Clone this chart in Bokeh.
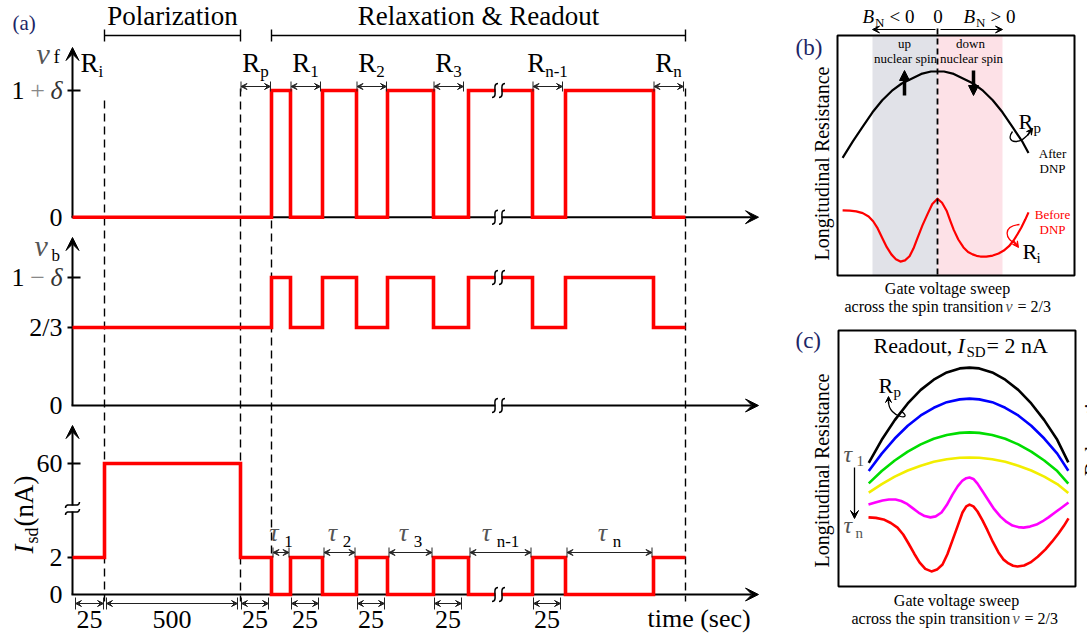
import numpy as np
from bokeh.plotting import figure
from bokeh.layouts import row, column
from bokeh.models import Range1d, Arrow, VeeHead, NormalHead
from bokeh.core.properties import value
from bokeh.embed import file_html
from bokeh.resources import INLINE

SERIF = "Liberation Serif"
RED = "#ff0000"
NAVY = "#1c2566"
MATH = "#555555"

# ================= DATA =================
# Panel (a): pulse sequence, schematic time (axis not to scale)
seg_edges = [0, 32, 168, 199, 218, 250, 284, 315, 361, 396, 460, 493, 581, 613]
isd_levels = ["2", "60", "2", "0", "2", "0", "2", "0", "2", "0", "2", "0", "2"]
nuf_levels = ["0", "0", "0", "1+δ", "0", "1+δ", "0", "1+δ", "0", "1+δ", "0", "1+δ", "0"]
nub_levels = ["2/3", "2/3", "2/3", "1−δ", "2/3", "1−δ", "2/3", "1−δ", "2/3", "1−δ", "2/3", "1−δ", "2/3"]
readout_len = 30
R_subs = ["p", "1", "2", "3", "n-1", "n"]
tau_subs = ["1", "2", "3", "n-1", "n"]
dur_labels = ["25", "500", "25", "25", "25", "25", "25"]
time_break = 426

# Panel (b): gate voltage sweep (units: B_N band width), resistance (arb.)
bn_bands = [(-1.0, 0.0), (0.0, 1.0)]
bn_colors = ["#e1e2e8", "#fde1e7"]
vg_after = [-1.46, -1.3, -1.15, -1.0, -0.85, -0.7, -0.55, -0.4, -0.25, -0.1, 0.0,
            0.1, 0.25, 0.4, 0.55, 0.7, 0.85, 1.0, 1.15, 1.3, 1.4]
r_after = [0.49, 0.56, 0.62, 0.68, 0.73, 0.77, 0.80, 0.82, 0.84, 0.85, 0.85,
           0.85, 0.84, 0.82, 0.80, 0.77, 0.73, 0.68, 0.62, 0.56, 0.51]
vg_before = [-1.46, -1.35, -1.25, -1.15, -1.06, -0.99, -0.92, -0.85, -0.78, -0.71,
             -0.64, -0.57, -0.50, -0.43, -0.37, -0.31, -0.23, -0.15, -0.08, 0.0,
             0.07, 0.14, 0.20, 0.25, 0.32, 0.40, 0.47, 0.54, 0.60, 0.66,
             0.75, 0.85, 0.94, 1.02, 1.10, 1.17, 1.23, 1.29, 1.35, 1.40]
r_before = [0.271, 0.270, 0.267, 0.260, 0.246, 0.226, 0.196, 0.156, 0.118, 0.088,
            0.068, 0.058, 0.063, 0.080, 0.112, 0.155, 0.210, 0.258, 0.298, 0.320,
            0.303, 0.270, 0.226, 0.190, 0.150, 0.117, 0.098, 0.088, 0.082, 0.079,
            0.079, 0.083, 0.092, 0.104, 0.122, 0.146, 0.172, 0.200, 0.233, 0.263]

# Panel (c): readout curves for increasing relaxation time tau_1 ... tau_n
vg_c = [-1.55, -1.35, -1.15, -0.95, -0.75, -0.55, -0.35, -0.15, 0.0,
        0.15, 0.35, 0.55, 0.75, 0.95, 1.15, 1.35, 1.52]
r_c_black = [0.483, 0.573, 0.650, 0.715, 0.768, 0.808, 0.836, 0.852, 0.855,
             0.852, 0.836, 0.808, 0.768, 0.715, 0.650, 0.573, 0.485]
r_c_blue = [0.451, 0.519, 0.578, 0.628, 0.668, 0.698, 0.720, 0.731, 0.734,
            0.731, 0.720, 0.698, 0.668, 0.628, 0.578, 0.519, 0.452]
r_c_green = [0.403, 0.451, 0.492, 0.527, 0.555, 0.577, 0.592, 0.600, 0.602,
             0.600, 0.592, 0.577, 0.555, 0.527, 0.492, 0.451, 0.402]
r_c_yellow = [0.367, 0.400, 0.429, 0.453, 0.472, 0.487, 0.497, 0.503, 0.504,
              0.503, 0.497, 0.487, 0.472, 0.453, 0.429, 0.400, 0.365]
vg_c_mag = [-1.554, -1.45, -1.338, -1.24, -1.138, -1.05, -0.969, -0.88, -0.785, -0.69,
            -0.600, -0.52, -0.431, -0.35, -0.262, -0.18, -0.108, -0.05, 0.0, 0.06,
            0.123, 0.20, 0.292, 0.38, 0.477, 0.57, 0.662, 0.75, 0.831, 0.93,
            1.031, 1.12, 1.215, 1.31, 1.400, 1.523]
r_c_mag = [0.320, 0.328, 0.336, 0.340, 0.340, 0.334, 0.324, 0.307, 0.289, 0.275,
           0.270, 0.274, 0.289, 0.318, 0.359, 0.392, 0.414, 0.423, 0.426, 0.420,
           0.402, 0.372, 0.336, 0.302, 0.273, 0.252, 0.238, 0.232, 0.230, 0.234,
           0.242, 0.254, 0.270, 0.288, 0.305, 0.328]
vg_c_red = [-1.554, -1.44, -1.323, -1.21, -1.108, -1.02, -0.938, -0.85, -0.769, -0.68,
            -0.585, -0.50, -0.415, -0.34, -0.262, -0.18, -0.108, -0.05, 0.0, 0.06,
            0.123, 0.20, 0.277, 0.36, 0.446, 0.52, 0.600, 0.67, 0.738, 0.84,
            0.938, 1.05, 1.169, 1.27, 1.369, 1.45, 1.523]
r_c_red = [0.270, 0.268, 0.262, 0.248, 0.230, 0.203, 0.168, 0.128, 0.094, 0.069,
           0.059, 0.066, 0.086, 0.126, 0.180, 0.238, 0.289, 0.313, 0.320, 0.313,
           0.293, 0.258, 0.219, 0.174, 0.133, 0.106, 0.090, 0.081, 0.078, 0.082,
           0.094, 0.116, 0.145, 0.175, 0.207, 0.236, 0.266]
c_curve_x = [vg_c, vg_c, vg_c, vg_c, vg_c_mag, vg_c_red]
c_curve_y = [r_c_black, r_c_blue, r_c_green, r_c_yellow, r_c_mag, r_c_red]
c_curve_colors = ["#000000", "#0000ff", "#00dd00", "#f2ee00", "#ff00ff", "#ff0000"]


# ================= HELPERS =================
def base_fig(w, h, xr, yr, sx, sy):
    p = figure(width=w, height=h, x_range=xr, y_range=yr, output_backend="svg",
               toolbar_location=None, min_border=0, x_axis_location=None,
               y_axis_location=None, outline_line_color=None,
               background_fill_color="white", border_fill_color="white")
    p.grid.visible = False
    p.tags = [sx, sy]  # data units per screen px (x right, y down)
    return p


def T(p, x, y, s, size, color="black", align="left", baseline="alphabetic",
      style="normal", angle=0.0):
    """Text placed by its alphabetic baseline (converted to a 'middle' anchor)."""
    sx, sy = p.tags
    fs = float(size.replace("px", ""))
    if baseline == "alphabetic":
        d = 0.34 * fs
        if angle == 0.0:
            y = y - d * sy
        else:
            x = x - d * sx
        baseline = "middle"
    p.text(x=[x], y=[y], text=[s], text_font=value(SERIF), text_font_size=size,
           text_color=color, text_align=align, text_baseline=baseline,
           text_font_style=style, angle=angle)


def vee(size, color="black"):
    return VeeHead(size=size, fill_color=color, line_color=color)


# ================= PANEL (a) =================
LEVEL_Y = {"nuf": {"0": 216.7, "1+δ": 90.0},
           "nub": {"0": 405.0, "2/3": 327.0, "1−δ": 277.0},
           "isd": {"0": 594.0, "2": 557.0, "60": 463.0}}
AXIS_TOP = {"nuf": 47.0, "nub": 237.0, "isd": 425.0}

pa = base_fig(760, 636, Range1d(-72, 688), Range1d(636, 0), 1.0, 1.0)

# axes with arrow heads
for key in ["nuf", "nub", "isd"]:
    base = LEVEL_Y[key]["0"]
    pa.add_layout(Arrow(x_start=0, y_start=base, x_end=0, y_end=AXIS_TOP[key],
                        line_width=2, end=vee(13), level="underlay"))
    pa.add_layout(Arrow(x_start=-1, y_start=base, x_end=686, y_end=base,
                        line_width=2, end=vee(13), level="underlay"))

# y ticks
tick_keys = [("nuf", "1+δ"), ("nub", "1−δ"), ("nub", "2/3"), ("isd", "2"), ("isd", "60")]
ty = [LEVEL_Y[k][l] for k, l in tick_keys]
pa.segment(x0=[-5] * len(ty), x1=[8] * len(ty), y0=ty, y1=ty, line_color="black", line_width=2)

# tick labels
plain = [("nuf", "0"), ("nub", "0"), ("nub", "2/3"), ("isd", "0"), ("isd", "2"), ("isd", "60")]
for k, l in plain:
    T(pa, -10, LEVEL_Y[k][l] + 9, l, "26px", align="right")
for k, l, sign in [("nuf", "1+δ", "+"), ("nub", "1−δ", "−")]:
    yb = LEVEL_Y[k][l] + 9
    T(pa, -48, yb, "1", "26px", align="right")
    T(pa, -35, yb, sign, "26px", color="#888888", align="center")
    T(pa, -10, yb, "δ", "26px", color="#333333", align="right", style="italic")

# axis names
T(pa, -36, 63, "ν", "30px", color=MATH, style="italic")
T(pa, -19, 62, "f", "19px")
T(pa, -38, 255, "ν", "30px", color=MATH, style="italic")
T(pa, -21, 261, "b", "17px")
T(pa, -39, 553, "I", "27px", style="italic", angle=np.pi / 2)
T(pa, -34, 543, "sd", "18px", angle=np.pi / 2)
T(pa, -39, 526, "(nA)", "27px", angle=np.pi / 2)

# dashed phase markers
dash_t = [seg_edges[1], seg_edges[2], seg_edges[3], seg_edges[-1]]
dash_top = [100, 88, 90, 88]
dash_bot = [601, 601, 557, 601]
pa.segment(x0=dash_t, x1=dash_t, y0=dash_top, y1=dash_bot, line_color="black",
           line_width=1.4, line_dash="8 5")

# phase brackets and titles
for (t0, t1, name) in [(seg_edges[1], seg_edges[2], "Polarization"),
                       (seg_edges[3], seg_edges[-1], "Relaxation & Readout")]:
    pa.segment(x0=[t0, t0, t1], x1=[t1, t0, t1], y0=[35, 29, 29], y1=[35, 41, 41],
               line_color="black", line_width=1.4)
    T(pa, (t0 + t1) / 2, 25, name, "27px", align="center")
T(pa, -60, 30, "(a)", "21px", color=NAVY)

# red pulse traces
for key, levels in [("nuf", nuf_levels), ("nub", nub_levels), ("isd", isd_levels)]:
    xs, ys = [], []
    for i, lv in enumerate(levels):
        y = LEVEL_Y[key][lv]
        xs += [seg_edges[i], seg_edges[i + 1]]
        ys += [y, y]
    pa.line(xs, ys, line_color=RED, line_width=3.6, line_join="miter")


def dbl_arrow(p, x0, x1, y, bar=5, color="#222222"):
    p.add_layout(Arrow(x_start=x0, x_end=x1, y_start=y, y_end=y, line_width=1,
                       line_color=color, start=vee(6, color), end=vee(6, color)))
    p.segment(x0=[x0, x1], x1=[x0, x1], y0=[y - bar, y - bar], y1=[y + bar, y + bar],
              line_color=color, line_width=1)


# readout windows R_p ... R_n
readout_starts = [seg_edges[i] for i in range(2, len(isd_levels)) if isd_levels[i] == "2"]
R_w = 18.0
for t0, sub in zip(readout_starts, R_subs):
    dbl_arrow(pa, t0 + 0.5, t0 + readout_len, 86)
    sw = {"n-1": 22.7, "i": 4.7}.get(sub, 8.5)
    left = t0 + readout_len / 2 - (R_w + sw) / 2
    T(pa, left, 72, "R", "27px")
    T(pa, left + R_w, 77, sub, "17px")
T(pa, 8, 72, "R", "27px")
T(pa, 26, 77, "i", "17px")

# relaxation intervals tau (I_sd = 0)
low = [(seg_edges[i], seg_edges[i + 1]) for i, l in enumerate(isd_levels) if l == "0"]
for (t0, t1), sub in zip(low, tau_subs):
    dbl_arrow(pa, t0 + 1.5, t1 - 1.5, 552)
    sw = {"n-1": 22.7}.get(sub, 8.5)
    left = (t0 + t1) / 2 - (15 + sw) / 2
    T(pa, left, 541, "τ", "26px", color=MATH, style="italic")
    T(pa, left + 15, 547, sub, "17px")

# durations below the time axis
dur_win = [(seg_edges[0] + 3, seg_edges[1] - 1), (seg_edges[1] + 2, seg_edges[2] - 3)]
dur_win += [(t0 + 1, t0 + readout_len - 2) for t0 in readout_starts[:-1]]
for (t0, t1), lab in zip(dur_win, dur_labels):
    dbl_arrow(pa, t0, t1, 603, bar=6)
    T(pa, (t0 + t1) / 2, 628, lab, "26px", align="center")
T(pa, 575, 627, "time (sec)", "26px")


# axis breaks
def squiggle_h(p, x, y):
    p.rect(x=[x], y=[y], width=6, height=8, fill_color="white", line_color=None)
    for dx in (-3.5, 3.5):
        p.bezier(x0=[x + dx - 3], y0=[y + 7], x1=[x + dx + 3], y1=[y - 7],
                 cx0=[x + dx + 4], cy0=[y + 7], cx1=[x + dx - 4], cy1=[y - 7],
                 line_color="black", line_width=1.5)


def squiggle_v(p, x, y):
    p.rect(x=[x], y=[y], width=8, height=6, fill_color="white", line_color=None)
    for dy in (-3.5, 3.5):
        p.bezier(x0=[x - 7], y0=[y + dy + 3], x1=[x + 7], y1=[y + dy - 3],
                 cx0=[x - 7], cy0=[y + dy - 4], cx1=[x + 7], cy1=[y + dy + 4],
                 line_color="black", line_width=1.5)


for y in [LEVEL_Y["nuf"]["0"], LEVEL_Y["nuf"]["1+δ"], LEVEL_Y["nub"]["0"],
          LEVEL_Y["nub"]["1−δ"], LEVEL_Y["isd"]["0"]]:
    squiggle_h(pa, time_break, y)
squiggle_v(pa, 0, (LEVEL_Y["isd"]["2"] + LEVEL_Y["isd"]["60"]) / 2 - 2)

# ================= PANEL (b) =================
BX0, BU, BY0, BV = 937.0, 65.0, 275.0, 240.0
bx = lambda px: (px - BX0) / BU
by = lambda py: (BY0 - py) / BV
pb = base_fig(327, 318, Range1d(bx(760), bx(1087)), Range1d(by(318), by(0)), 1 / BU, -1 / BV)

pb.quad(left=[b[0] for b in bn_bands], right=[b[1] for b in bn_bands], bottom=0, top=1,
        fill_color=bn_colors, line_color=None)
pb.line(vg_after, r_after, line_color="black", line_width=2.2, line_join="round")
pb.line(vg_before, r_before, line_color=RED, line_width=2.2, line_join="round")
pb.segment(x0=[0], x1=[0], y0=[by(28)], y1=[0], line_color="black", line_width=1.8,
           line_dash="6 4")
pb.quad(left=[bx(837)], right=[bx(1074)], bottom=[0], top=[1], fill_alpha=0,
        line_color="black", line_width=2)

# B_N header
pb.add_layout(Arrow(x_start=bx(935), y_start=by(29), x_end=-1.0, y_end=by(29), line_width=1.2,
                    end=vee(7)))
pb.add_layout(Arrow(x_start=bx(940), y_start=by(29), x_end=1.0, y_end=by(29), line_width=1.2,
                    end=vee(7)))
for x0, sign in [(862, "< 0"), (963, "> 0")]:
    T(pb, bx(x0), by(22), "B", "19px", style="italic")
    T(pb, bx(x0 + 12.5), by(26), "N", "13px")
    T(pb, bx(x0 + 27), by(22), sign, "19px")
T(pb, bx(937.5), by(22), "0", "19px", align="center")
T(pb, bx(904), by(47), "up", "13px", align="center")
T(pb, bx(905), by(62), "nuclear spin", "13px", align="center")
T(pb, bx(970), by(47), "down", "13px", align="center")
T(pb, bx(971), by(62), "nuclear spin", "13px", align="center")
pb.add_layout(Arrow(x_start=bx(904), y_start=by(95), x_end=bx(904), y_end=by(70),
                    line_width=3.5, end=NormalHead(size=10, fill_color="black")))
pb.add_layout(Arrow(x_start=bx(973), y_start=by(70), x_end=bx(973), y_end=by(95),
                    line_width=3.5, end=NormalHead(size=10, fill_color="black")))

# labels
T(pb, bx(795), by(55), "(b)", "23px", color=NAVY)
T(pb, bx(821), by(163), "Longitudinal Resistance", "20px", align="center",
  baseline="middle", angle=np.pi / 2)
T(pb, bx(947), by(293), "Gate voltage sweep", "16px", align="center")
T(pb, bx(844), by(311), "across the spin transition", "16px")
T(pb, bx(1005), by(311), "ν", "16px", color=MATH, style="italic")
T(pb, bx(1017), by(311), "= 2/3", "16px")
T(pb, bx(1018), by(128), "R", "22px")
T(pb, bx(1033), by(133), "p", "15px")
T(pb, bx(1052), by(157), "After", "13px", align="center")
T(pb, bx(1052), by(172), "DNP", "13px", align="center")
T(pb, bx(1052), by(218), "Before", "13px", color=RED, align="center")
T(pb, bx(1052), by(233), "DNP", "13px", color=RED, align="center")
T(pb, bx(1022), by(258), "R", "22px")
T(pb, bx(1036), by(263), "i", "15px")
pb.bezier(x0=[bx(1012)], y0=[by(131)], x1=[bx(1030)], y1=[by(130)], cx0=[bx(1003)],
          cy0=[by(143)], cx1=[bx(1022)], cy1=[by(146)], line_color="black", line_width=1.3)
pb.add_layout(Arrow(x_start=bx(1027), y_start=by(135), x_end=bx(1032), y_end=by(128),
                    line_width=1.3, end=vee(6)))
pb.bezier(x0=[bx(1019)], y0=[by(224)], x1=[bx(1016)], y1=[by(244)], cx0=[bx(1002)],
          cy0=[by(226)], cx1=[bx(1004)], cy1=[by(238)], line_color=RED, line_width=1.3)
pb.add_layout(Arrow(x_start=bx(1013), y_start=by(240), x_end=bx(1018), y_end=by(247),
                    line_width=1.3, line_color=RED, end=vee(6, RED)))

# ================= PANEL (c) =================
CX0, CU, CY0, CV = 969.0, 65.0, 586.0, 256.0
cx = lambda px: (px - CX0) / CU
cy = lambda py: (CY0 - py) / CV
pc = base_fig(327, 318, Range1d(cx(760), cx(1087)), Range1d(cy(636), cy(318)), 1 / CU, -1 / CV)

for xs, ys, col in zip(c_curve_x, c_curve_y, c_curve_colors):
    pc.line(xs, ys, line_color=col, line_width=2.6, line_join="round")
pc.quad(left=[cx(838)], right=[cx(1075)], bottom=[0], top=[cy(330)], fill_alpha=0,
        line_color="black", line_width=2)

T(pc, cx(795), cy(348), "(c)", "23px", color=NAVY)
T(pc, cx(873), cy(352), "Readout,", "22px")
T(pc, cx(957), cy(352), "I", "22px", style="italic")
T(pc, cx(966), cy(357), "SD", "15px")
T(pc, cx(986), cy(352), "= 2 nA", "22px")
T(pc, cx(821), cy(470), "Longitudinal Resistance", "20px", align="center",
  baseline="middle", angle=np.pi / 2)
T(pc, cx(956), cy(605), "Gate voltage sweep", "16px", align="center")
T(pc, cx(851), cy(623), "across the spin transition", "16px")
T(pc, cx(1012), cy(623), "ν", "16px", color=MATH, style="italic")
T(pc, cx(1024), cy(623), "= 2/3", "16px")
T(pc, cx(878), cy(392), "R", "22px")
T(pc, cx(893), cy(397), "p", "15px")
pc.bezier(x0=[cx(901)], y0=[cy(411)], x1=[cx(888)], y1=[cy(401)], cx0=[cx(914)],
          cy0=[cy(420)], cx1=[cx(888)], cy1=[cy(418)], line_color="black", line_width=1.3)
pc.add_layout(Arrow(x_start=cx(888), y_start=cy(403), x_end=cx(888), y_end=cy(396),
                    line_width=1.3, end=vee(6)))
T(pc, cx(843), cy(462), "τ", "24px", color=MATH, style="italic")
T(pc, cx(856), cy(466), "1", "15px", color=MATH)
T(pc, cx(843), cy(533), "τ", "24px", color=MATH, style="italic")
T(pc, cx(855), cy(538), "n", "15px", color=MATH)
pc.add_layout(Arrow(x_start=cx(854), y_start=cy(467), x_end=cx(854), y_end=cy(518),
                    line_width=1.3, end=vee(8)))
T(pc, cx(1078), cy(428), "Relaxation", "22px", align="center", baseline="top",
  angle=np.pi / 2)

layout = row(pa, column(pb, pc, spacing=0), spacing=0)
open("out.html", "w").write(file_html(layout, INLINE))
